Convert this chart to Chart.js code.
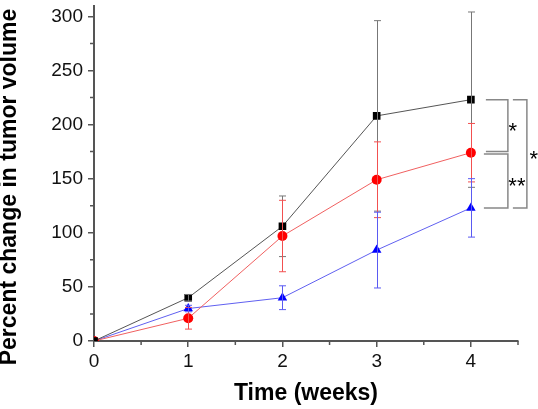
<!DOCTYPE html>
<html>
<head>
<meta charset="utf-8">
<script src="https://cdn.jsdelivr.net/npm/chart.js@4.4.1/dist/chart.umd.min.js"></script>
<style>
  html, body { margin: 0; padding: 0; background: #fff; }
  #wrap { width: 538px; height: 409px; position: relative; }
</style>
</head>
<body>
<div id="wrap"><canvas id="chart"></canvas></div>
<script>
// Weeks and group means (percent change in tumor volume)
const weeks = [0, 1, 2, 3, 4];
const blackMean = [0, 40, 106, 208, 223];
const blackSd = [0, 3, 28, 88, 81];
const redMean = [0, 21, 97, 149, 174];
const redSd = [0, 10, 33, 35, 27];
const blueMean = [0, 30, 40, 84, 123];
const blueSd = [0, 3, 11, 35, 27];

const xTicks = [0, 1, 2, 3, 4];
const xMinor = [0.5, 1.5, 2.5, 3.5, 4.5];
const yTicks = [0, 50, 100, 150, 200, 250, 300];
const yMinor = [25, 75, 125, 175, 225, 275];
const yTitle = "Percent change in tumor volume";

// significance brackets: [from series, to series, label]
const sigPairs = [
  { a: blackMean, b: redMean, label: "*" },
  { a: redMean, b: blueMean, label: "**" },
  { a: blackMean, b: blueMean, label: "*" }
];

const axisColor = "#555";
const font = "Arial, 'Liberation Sans', sans-serif";

const toXY = (ys) => weeks.map((w, i) => ({ x: w, y: ys[i] }));

// error bars + minor ticks + brackets + y title
const extras = {
  id: "extras",
  afterDatasetsDraw(chart) {
    const ctx = chart.ctx;
    const xs = chart.scales.x, ys = chart.scales.y;
    ctx.save();
    chart.data.datasets.forEach((ds) => {
      ctx.strokeStyle = ds.errColor;
      ctx.lineWidth = 1;
      ds.data.forEach((p, i) => {
        const sd = ds.sd[i];
        if (!sd) return;
        const px = Math.round(xs.getPixelForValue(p.x)) + 0.5;
        const top = ys.getPixelForValue(p.y + sd);
        const bot = ys.getPixelForValue(p.y - sd);
        ctx.beginPath();
        ctx.moveTo(px, top); ctx.lineTo(px, bot);
        ctx.moveTo(px - 3.5, top); ctx.lineTo(px + 3.5, top);
        ctx.moveTo(px - 3.5, bot); ctx.lineTo(px + 3.5, bot);
        ctx.stroke();
      });
    });
    ctx.restore();
  },
  afterDraw(chart) {
    const ctx = chart.ctx;
    const xs = chart.scales.x, ys = chart.scales.y;
    const area = chart.chartArea;
    ctx.save();
    // minor ticks
    ctx.strokeStyle = axisColor;
    ctx.lineWidth = 1.5;
    ctx.beginPath();
    yMinor.forEach((v) => {
      const py = ys.getPixelForValue(v);
      ctx.moveTo(area.left - 4, py); ctx.lineTo(area.left, py);
    });
    xMinor.forEach((v) => {
      const px = xs.getPixelForValue(v);
      ctx.moveTo(px, area.bottom); ctx.lineTo(px, area.bottom + 4);
    });
    ctx.stroke();

    // y title (sits a bit lower than the scale centre)
    ctx.save();
    ctx.translate(10, 187);
    ctx.rotate(-Math.PI / 2);
    ctx.fillStyle = "#000";
    ctx.font = "bold 23px " + font;
    ctx.textAlign = "center";
    ctx.textBaseline = "middle";
    ctx.fillText(yTitle, 0, 0);
    ctx.restore();

    // brackets
    const last = weeks.length - 1;
    const x4 = xs.getPixelForValue(weeks[last]);
    ctx.strokeStyle = "#888";
    ctx.lineWidth = 1.5;
    ctx.fillStyle = "#000";
    ctx.font = "22px " + font;
    ctx.textAlign = "center";
    ctx.textBaseline = "alphabetic";
    const shapes = [
      { l: x4 + 15, r: x4 + 37, ta: 0, tb: -1.3, lx: x4 + 42, ly: 12.5 },
      { l: x4 + 13, r: x4 + 37, ta: 1.3, tb: 0, lx: x4 + 46, ly: 12.5 },
      { l: x4 + 42, r: x4 + 56, ta: 0, tb: 0, lx: x4 + 63, ly: 12.5 }
    ];
    sigPairs.forEach((s, i) => {
      const g = shapes[i];
      const ya = ys.getPixelForValue(s.a[last]) + g.ta;
      const yb = ys.getPixelForValue(s.b[last]) + g.tb;
      ctx.beginPath();
      ctx.moveTo(g.l, ya); ctx.lineTo(g.r, ya); ctx.lineTo(g.r, yb); ctx.lineTo(g.l, yb);
      ctx.stroke();
      ctx.fillText(s.label, g.lx, (ya + yb) / 2 + g.ly);
    });
    ctx.restore();
  }
};

new Chart(document.getElementById("chart"), {
  type: "line",
  data: {
    datasets: [
      {
        data: toXY(blackMean), sd: blackSd, errColor: "#777",
        borderColor: "#555", borderWidth: 1,
        pointStyle: "rect", pointRadius: 5.4,
        pointBackgroundColor: "#000", pointBorderColor: "#000", pointBorderWidth: 0
      },
      {
        data: toXY(redMean), sd: redSd, errColor: "#f25050",
        borderColor: "#f06060", borderWidth: 1,
        pointStyle: "circle", pointRadius: 5,
        pointBackgroundColor: "#ff0000", pointBorderColor: "#ff0000", pointBorderWidth: 0
      },
      {
        data: toXY(blueMean), sd: blueSd, errColor: "#5a5af2",
        borderColor: "#6060f0", borderWidth: 1,
        pointStyle: "triangle", pointRadius: 5.5,
        pointBackgroundColor: "#0000ff", pointBorderColor: "#0000ff", pointBorderWidth: 0
      }
    ]
  },
  options: {
    responsive: true,
    maintainAspectRatio: false,
    animation: false,
    layout: { padding: { left: 0, right: 20, top: 0, bottom: 0 } },
    plugins: { legend: { display: false }, tooltip: { enabled: false } },
    scales: {
      x: {
        type: "linear",
        min: 0, max: 4.5,
        afterBuildTicks: (s) => { s.ticks = xTicks.map((v) => ({ value: v })); },
        afterFit: (s) => { s.height = 68; s.paddingLeft = 0; s.paddingRight = 0; },
        grid: { drawOnChartArea: false, drawTicks: true, tickLength: 6, color: axisColor, lineWidth: 1.5 },
        border: { color: axisColor, width: 2 },
        ticks: { color: "#111", padding: 3, font: { family: font, size: 19 } },
        title: {
          display: true, text: "Time (weeks)", color: "#000",
          font: { family: font, size: 23, weight: "bold", lineHeight: 1.2 },
          padding: { top: 0, bottom: 2 }
        }
      },
      y: {
        type: "linear",
        min: 0, max: 310,
        afterBuildTicks: (s) => { s.ticks = yTicks.map((v) => ({ value: v })); },
        afterFit: (s) => { s.width = 94; s.paddingTop = 0; s.paddingBottom = 0; },
        grid: { drawOnChartArea: false, drawTicks: true, tickLength: 6, color: axisColor, lineWidth: 1.5 },
        border: { color: axisColor, width: 2 },
        ticks: { color: "#111", padding: 5, font: { family: font, size: 19 } },
        title: { display: false }
      }
    }
  },
  plugins: [extras]
});
</script>
</body>
</html>
